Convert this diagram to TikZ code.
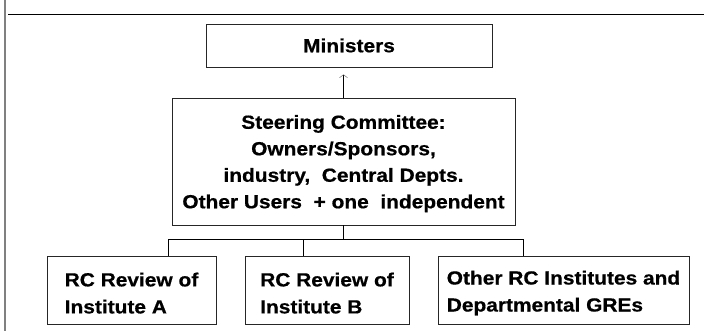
\documentclass[tikz,border=0pt]{standalone}
\usepackage{fontspec}
\setmainfont{Liberation Sans}[FakeStretch=1.1, BoldFeatures={FakeBold=0.6}]
\usetikzlibrary{arrows.meta,positioning}

\begin{document}
\begin{tikzpicture}[
  x=1pt, y=1pt,
  box/.style={draw=black!85, line width=0.8pt, inner sep=0pt, align=center,
    font=\bfseries\fontsize{19}{26.5}\selectfont},
  unit/.style={box, align=left, minimum height=68pt, font=\bfseries\fontsize{19}{27}\selectfont},
  link/.style={line width=0.8pt},
  >={Straight Barb[length=3pt, width=8pt, line width=0.5pt, color=black!55]}
]
\useasboundingbox (0,0) rectangle (704,331);

% frame
\draw[black!50, line width=1.6pt] (5,0) -- (5,331);
\draw[line width=0.9pt] (8,317) -- (704,317);

% top level
\node[box, minimum width=286pt, minimum height=43pt] (min) at (349,285.5) {Ministers};
\node[box, minimum width=343pt, minimum height=127pt] (steer) at (343.5,169.5)
  {\rule{0pt}{18pt}Steering Committee:\\ Owners/Sponsors,\\ industry,\ \ Central Depts.\\ Other Users\ \ + one\ \ independent};

% reviews
\node[unit, minimum width=169pt] (ra) at (131.5,41) {\rule{0pt}{20pt}RC Review of\\ Institute A};
\node[unit, minimum width=164pt] (rb) at (327,41) {\rule{0pt}{20pt}RC Review of\\ Institute B};
\node[unit, minimum width=251pt] (oth) at (563.5,41) {\rule{0pt}{20pt}Other RC Institutes and\\ Departmental GREs};

% reporting line
\draw[link, ->, shorten >=7pt] (steer.north) -- (steer.north |- min.south);

% tree below the committee
\draw[link] (steer.south) -- ++(0,-15);
\draw[link] ([xshift=36.5pt]ra.north) -- ++(0,16) -| ([xshift=-40.5pt]oth.north);
\draw[link] ([xshift=-24pt]rb.north) -- ++(0,16);
\end{tikzpicture}
\end{document}
